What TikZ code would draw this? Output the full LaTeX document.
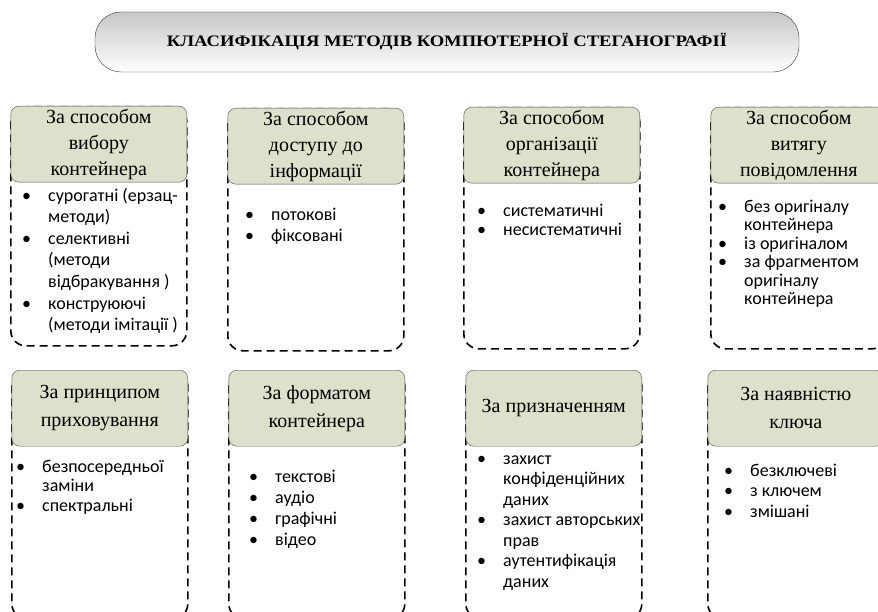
\documentclass[tikz,border=0pt]{standalone}
\usepackage{fontspec}
\setmainfont{Liberation Serif}
\newfontfamily\bodyfont{Carlito}
\newfontfamily\titlefont{Liberation Serif}[FakeStretch=1.16]
\usetikzlibrary{positioning}
\definecolor{headfill}{RGB}{221,224,203}
\newcommand{\bul}{\makebox[26pt][l]{\rule{0pt}{15pt}\textbullet}}
\newcommand{\ind}{\hspace*{26pt}}

\begin{document}
\begin{tikzpicture}
  [x=1pt,y=-1pt,
   title/.style={draw=black!80,top color=black!22,bottom color=white,rounded corners=26pt,
     minimum width=704pt,minimum height=60pt,font=\titlefont\bfseries\fontsize{16}{18}\selectfont},
   frame/.style={anchor=north west,draw,line width=1.6pt,dash pattern=on 8pt off 5pt,
     rounded corners=15pt,minimum width=176pt},
   head/.style={anchor=north,draw=black!70,fill=headfill,rounded corners=8pt,minimum width=176pt,
     minimum height=76pt,inner sep=0pt,align=center,font=\fontsize{20}{26}\selectfont},
   items/.style={anchor=north west,inner sep=0pt,align=left,font=\bodyfont\fontsize{18}{20.5}\selectfont}]
  \clip (0,0) rectangle (878,612);
  \node[title] (title) at (447,42) {КЛАСИФІКАЦІЯ МЕТОДІВ КОМПЮТЕРНОЇ СТЕГАНОГРАФІЇ};

  % dashed frames
  \foreach \n/\x/\y/\h in {1/10/106/239, 2/227/108/242, 3/463/107/241, 4/710/107/241,
                           5/11/370/248, 6/228/370/248, 7/465/370/248, 8/707/370/248}
    \node[frame,minimum height=\h pt] (f\n) at (\x,\y) {};

  % headers
  \node[head] (h1) at (f1.north) {За способом\\вибору\\контейнера};
  \node[head] (h2) at (f2.north) {За способом\\доступу до\\інформації};
  \node[head] (h3) at (f3.north) {За способом\\організації\\контейнера};
  \node[head] (h4) at (f4.north) {За способом\\витягу\\повідомлення};
  \node[head,font=\fontsize{20}{28}\selectfont] (h5) at (f5.north) {За принципом\\приховування};
  \node[head,font=\fontsize{20}{28}\selectfont] (h6) at (f6.north) {За форматом\\контейнера};
  \node[head] (h7) at (f7.north) {За призначенням};
  \node[head,font=\fontsize{20}{28}\selectfont] (h8) at (f8.north) {За наявністю\\ключа};

  % lists (y = first baseline - 15)
  \node[items,font=\bodyfont\fontsize{18}{21.6}\selectfont] (l1) at (22,186)
    {\bul сурогатні (ерзац-\\\ind методи)\\\bul селективні\\\ind (методи\\\ind відбракування )\\\bul конструюючі\\\ind (методи імітації )};
  \node[items,font=\bodyfont\fontsize{18}{21}\selectfont] (l2) at (245,205)
    {\bul потокові\\\bul фіксовані};
  \node[items,font=\bodyfont\fontsize{18}{19}\selectfont] (l3) at (477,201)
    {\bul систематичні\\\bul несистематичні};
  \node[items,font=\bodyfont\fontsize{18}{18.5}\selectfont] (l4) at (718,197)
    {\bul без оригіналу\\\ind контейнера\\\bul із оригіналом\\\bul за фрагментом\\\ind оригіналу\\\ind контейнера};
  \node[items,font=\bodyfont\fontsize{18}{19.5}\selectfont] (l5) at (16,457)
    {\bul безпосередньої\\\ind заміни\\\bul спектральні};
  \node[items,font=\bodyfont\fontsize{18}{21}\selectfont] (l6) at (249,467)
    {\bul текстові\\\bul аудіо\\\bul графічні\\\bul відео};
  \node[items] (l7) at (477,449)
    {\bul захист\\\ind конфіденційних\\\ind даних\\\bul захист авторських\\\ind прав\\\bul аутентифікація\\\ind даних};
  \node[items] (l8) at (724,461)
    {\bul безключеві\\\bul з ключем\\\bul змішані};
\end{tikzpicture}
\end{document}
